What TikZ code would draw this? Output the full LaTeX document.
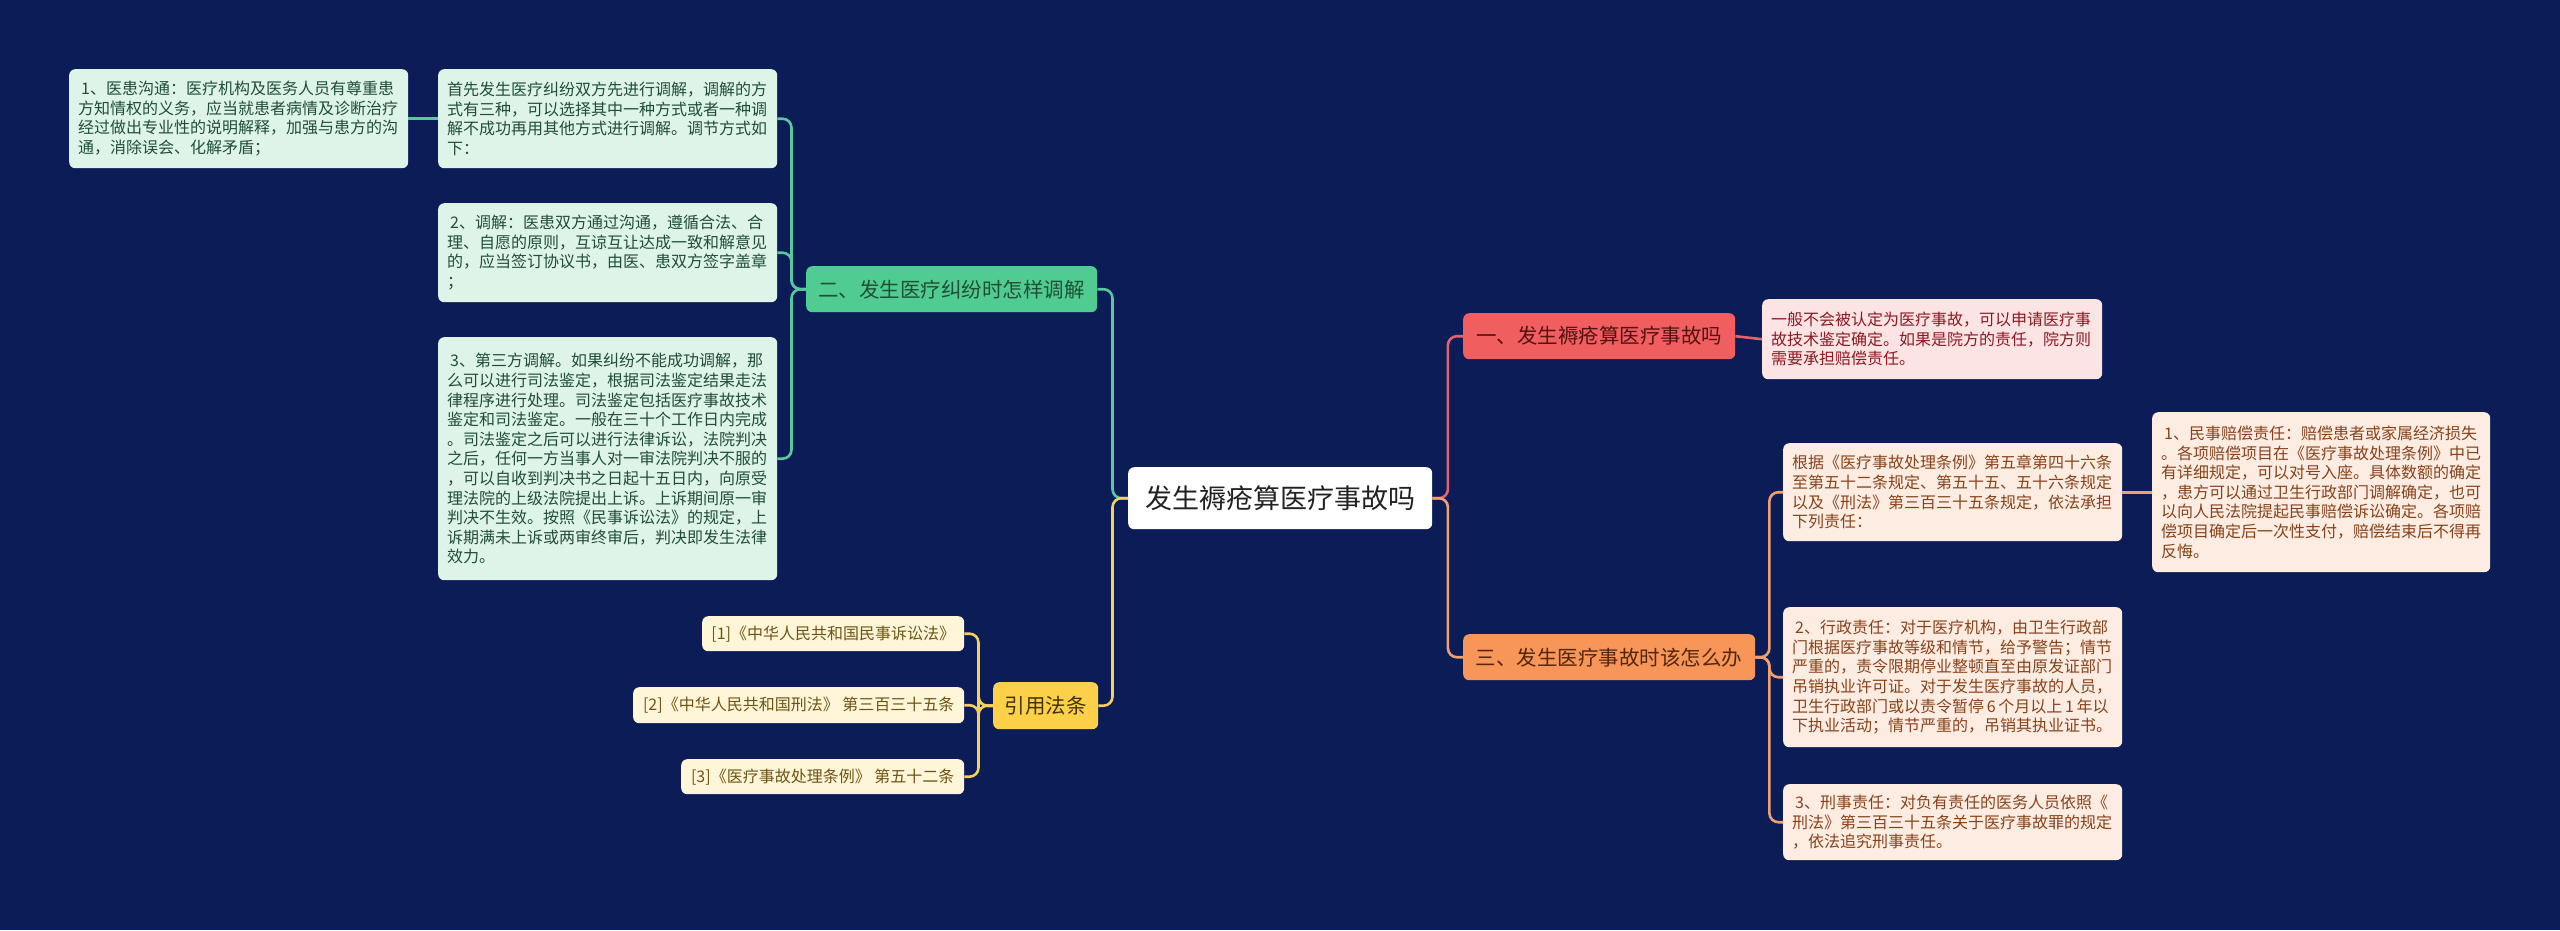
\documentclass[tikz,border=0pt]{standalone}
\usepackage{fontspec}
\setmainfont{Noto Sans CJK SC}
\usetikzlibrary{calc}
\definecolor{bgc}{RGB}{12,28,86}
\definecolor{gline}{RGB}{88,200,158}
\definecolor{gfill}{RGB}{80,204,146}
\definecolor{gleaf}{RGB}{222,244,232}
\definecolor{gtext}{RGB}{32,78,56}
\definecolor{rline}{RGB}{228,98,112}
\definecolor{rfill}{RGB}{240,94,96}
\definecolor{rleaf}{RGB}{253,228,228}
\definecolor{rtext}{RGB}{140,24,34}
\definecolor{rbtext}{RGB}{84,18,18}
\definecolor{oline}{RGB}{240,160,112}
\definecolor{ofill}{RGB}{247,150,88}
\definecolor{oleaf}{RGB}{253,236,226}
\definecolor{otext}{RGB}{136,66,26}
\definecolor{obtext}{RGB}{84,38,10}
\definecolor{yline}{RGB}{245,208,90}
\definecolor{yfill}{RGB}{252,208,72}
\definecolor{yleaf}{RGB}{255,246,218}
\definecolor{ytext}{RGB}{110,84,18}
\definecolor{ybtext}{RGB}{66,48,0}
\definecolor{roottext}{RGB}{34,34,34}
\tikzset{
  box/.style={rounded corners=6pt, anchor=north west, inner sep=0pt},
  leaf/.style={box, align=left, inner xsep=9pt, font=\fontsize{16}{19.6}\selectfont},
  single/.style={box, align=center},
  conn/.style={line width=2.6pt, rounded corners=9pt},
  gleafbox/.style={leaf, fill=gleaf, text=gtext},
  rleafbox/.style={leaf, fill=rleaf, text=rtext},
  oleafbox/.style={leaf, fill=oleaf, text=otext},
  yleafbox/.style={single, fill=yleaf, text=ytext, font=\fontsize{16}{19.6}\selectfont},
  branchbox/.style={single, font=\fontsize{20.5}{24}\selectfont, minimum height=46pt},
}
\begin{document}
\begin{tikzpicture}[x=1pt,y=-1pt]
\fill[bgc] (0,0) rectangle (2560,930);
\useasboundingbox (0,0) rectangle (2560,930);

% root
\node[single, fill=white, text=roottext, font=\fontsize{27}{30}\selectfont, minimum width=304pt, minimum height=62pt] (root) at (1128,467) {发生褥疮算医疗事故吗};

% branches
\node[branchbox, fill=rfill, text=rbtext, minimum width=272pt] (b1) at (1463,313) {一、发生褥疮算医疗事故吗};
\node[branchbox, fill=gfill, text=gtext, minimum width=291pt] (b2) at (806,266) {二、发生医疗纠纷时怎样调解};
\node[branchbox, fill=ofill, text=obtext, minimum width=292pt] (b3) at (1463,634) {三、发生医疗事故时该怎么办};
\node[branchbox, fill=yfill, text=ybtext, minimum width=105pt, minimum height=47pt] (b4) at (993,682) {引用法条};

% green leaves
\node[gleafbox, text width=321pt, minimum height=99pt] (l0) at (69,69) {\hspace*{3pt}1、医患沟通：医疗机构及医务人员有尊重患\\方知情权的义务，应当就患者病情及诊断治疗\\经过做出专业性的说明解释，加强与患方的沟\\通，消除误会、化解矛盾；};
\node[gleafbox, text width=321pt, minimum height=99pt] (l1) at (438,69) {首先发生医疗纠纷双方先进行调解，调解的方\\式有三种，可以选择其中一种方式或者一种调\\解不成功再用其他方式进行调解。调节方式如\\下：};
\node[gleafbox, text width=321pt, minimum height=99pt] (l2) at (438,203) {\hspace*{3pt}2、调解：医患双方通过沟通，遵循合法、合\\理、自愿的原则，互谅互让达成一致和解意见\\的，应当签订协议书，由医、患双方签字盖章\\；};
\node[gleafbox, text width=321pt, minimum height=243pt] (l3) at (438,337) {\hspace*{3pt}3、第三方调解。如果纠纷不能成功调解，那\\么可以进行司法鉴定，根据司法鉴定结果走法\\律程序进行处理。司法鉴定包括医疗事故技术\\鉴定和司法鉴定。一般在三十个工作日内完成\\。司法鉴定之后可以进行法律诉讼，法院判决\\之后，任何一方当事人对一审法院判决不服的\\，可以自收到判决书之日起十五日内，向原受\\理法院的上级法院提出上诉。上诉期间原一审\\判决不生效。按照《民事诉讼法》的规定，上\\诉期满未上诉或两审终审后，判决即发生法律\\效力。};

% yellow citations
\node[yleafbox, minimum width=262pt, minimum height=35pt] (c1) at (702,616) {[1]《中华人民共和国民事诉讼法》};
\node[yleafbox, minimum width=331pt, minimum height=36pt] (c2) at (633,687) {[2]《中华人民共和国刑法》 第三百三十五条};
\node[yleafbox, minimum width=283pt, minimum height=35pt] (c3) at (681,759) {[3]《医疗事故处理条例》 第五十二条};

% red leaf
\node[rleafbox, text width=322pt, minimum height=80pt] (r1) at (1762,299) {一般不会被认定为医疗事故，可以申请医疗事\\故技术鉴定确定。如果是院方的责任，院方则\\需要承担赔偿责任。};

% orange leaves
\node[oleafbox, text width=321pt, minimum height=98pt] (o1) at (1783,443) {根据《医疗事故处理条例》第五章第四十六条\\至第五十二条规定、第五十五、五十六条规定\\以及《刑法》第三百三十五条规定，依法承担\\下列责任：};
\node[oleafbox, text width=320pt, minimum height=160pt] (o11) at (2152,412) {\hspace*{3pt}1、民事赔偿责任：赔偿患者或家属经济损失\\。各项赔偿项目在《医疗事故处理条例》中已\\有详细规定，可以对号入座。具体数额的确定\\，患方可以通过卫生行政部门调解确定，也可\\以向人民法院提起民事赔偿诉讼确定。各项赔\\偿项目确定后一次性支付，赔偿结束后不得再\\反悔。};
\node[oleafbox, text width=321pt, minimum height=140pt] (o2) at (1783,607) {\hspace*{3pt}2、行政责任：对于医疗机构，由卫生行政部\\门根据医疗事故等级和情节，给予警告；情节\\严重的，责令限期停业整顿直至由原发证部门\\吊销执业许可证。对于发生医疗事故的人员，\\\mbox{卫生行政部门或以责令暂停\,6\,个月以上\,1\,年以}\\下执业活动；情节严重的，吊销其执业证书。};
\node[oleafbox, text width=321pt, minimum height=76pt] (o3) at (1783,784) {\hspace*{3pt}3、刑事责任：对负有责任的医务人员依照《\\刑法》第三百三十五条关于医疗事故罪的规定\\，依法追究刑事责任。};

% connectors: root
\draw[conn, draw=gline] (root.west) -- ++(-15.5,0) |- (b2.east);
\draw[conn, draw=yline] (root.west) -- ++(-15.5,0) |- (b4.east);
\draw[conn, draw=rline] (root.east) -- ++(15.5,0) |- (b1.west);
\draw[conn, draw=oline] (root.east) -- ++(15.5,0) |- (b3.west);

% branch 2
\draw[conn, draw=gline] (b2.west) -- ++(-14.5,0) |- (l1.east);
\draw[conn, draw=gline] (b2.west) -- ++(-14.5,0) |- (l2.east);
\draw[conn, draw=gline] (b2.west) -- ++(-14.5,0) |- (l3.east);
\draw[conn, draw=gline] (l1.west) -- (l0.east);

% branch 4
\draw[conn, draw=yline] (b4.west) -- ++(-14.5,0) |- (c1.east);
\draw[conn, draw=yline] (b4.west) -- ++(-14.5,0) |- (c2.east);
\draw[conn, draw=yline] (b4.west) -- ++(-14.5,0) |- (c3.east);

% branch 1
\draw[conn, draw=rline] (b1.east) -- (r1.west);

% branch 3
\draw[conn, draw=oline] (b3.east) -- ++(14,0) |- (o1.west);
\draw[conn, draw=oline] (b3.east) -- ++(14,0) |- (o2.west);
\draw[conn, draw=oline] (b3.east) -- ++(14,0) |- (o3.west);
\draw[conn, draw=oline] (o1.east) -- (o11.west);
\end{tikzpicture}
\end{document}
